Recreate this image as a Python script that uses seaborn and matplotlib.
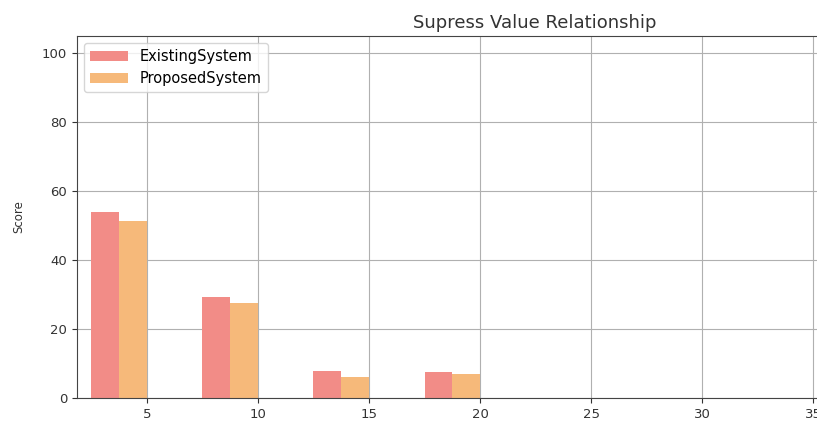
import matplotlib
matplotlib.use("Agg")
import matplotlib.pyplot as plt
import seaborn as sns
import pandas as pd

# values
threshold = [5, 10, 15, 20]
existing = [54.0, 29.2, 7.9, 7.5]
proposed = [51.2, 27.7, 6.2, 6.9]
series = ["ExistingSystem", "ProposedSystem"]
colors = ["#f28c87", "#f6b97a"]

bar_w = 1.25
rows = []
for t, e, p in zip(threshold, existing, proposed):
    # pair of bars sits just left of the threshold value
    rows.append({"pos": t - bar_w, "system": series[0], "score": e})
    rows.append({"pos": t - bar_w, "system": series[1], "score": p})
df = pd.DataFrame(rows)

plt.rcParams["font.family"] = ["DejaVu Sans"]
fig = plt.figure(figsize=(8.17, 4.22), dpi=100)
# the original chart was cropped on the right, so the axes run past the edge
ax = fig.add_axes([77 / 817, 24 / 422, 916 / 817, 362 / 422])

sns.barplot(data=df, x="pos", y="score", hue="system", palette=colors,
            native_scale=True, width=0.5, dodge=True, gap=0, saturation=1,
            errorbar=None, ax=ax, linewidth=0)

ax.set_xlim(1.85, 43.1)
ax.set_ylim(0, 105)
ax.set_xticks(range(5, 45, 5))
ax.set_yticks(range(0, 101, 20))
ax.tick_params(labelsize=9.5, colors="#333333")
ax.grid(True, color="#b0b0b0", linewidth=0.8)
ax.set_axisbelow(True)
for s in ax.spines.values():
    s.set_color("#444444")

ax.set_xlabel("")
ax.set_ylabel("Score", fontsize=8.5, color="#333333", labelpad=12)
ax.set_title("Supress Value Relationship", fontsize=13, color="#333333")
ax.legend(loc="upper left", fontsize=10.5, frameon=True, handlelength=2.6)

fig.savefig("out.png", dpi=100)
